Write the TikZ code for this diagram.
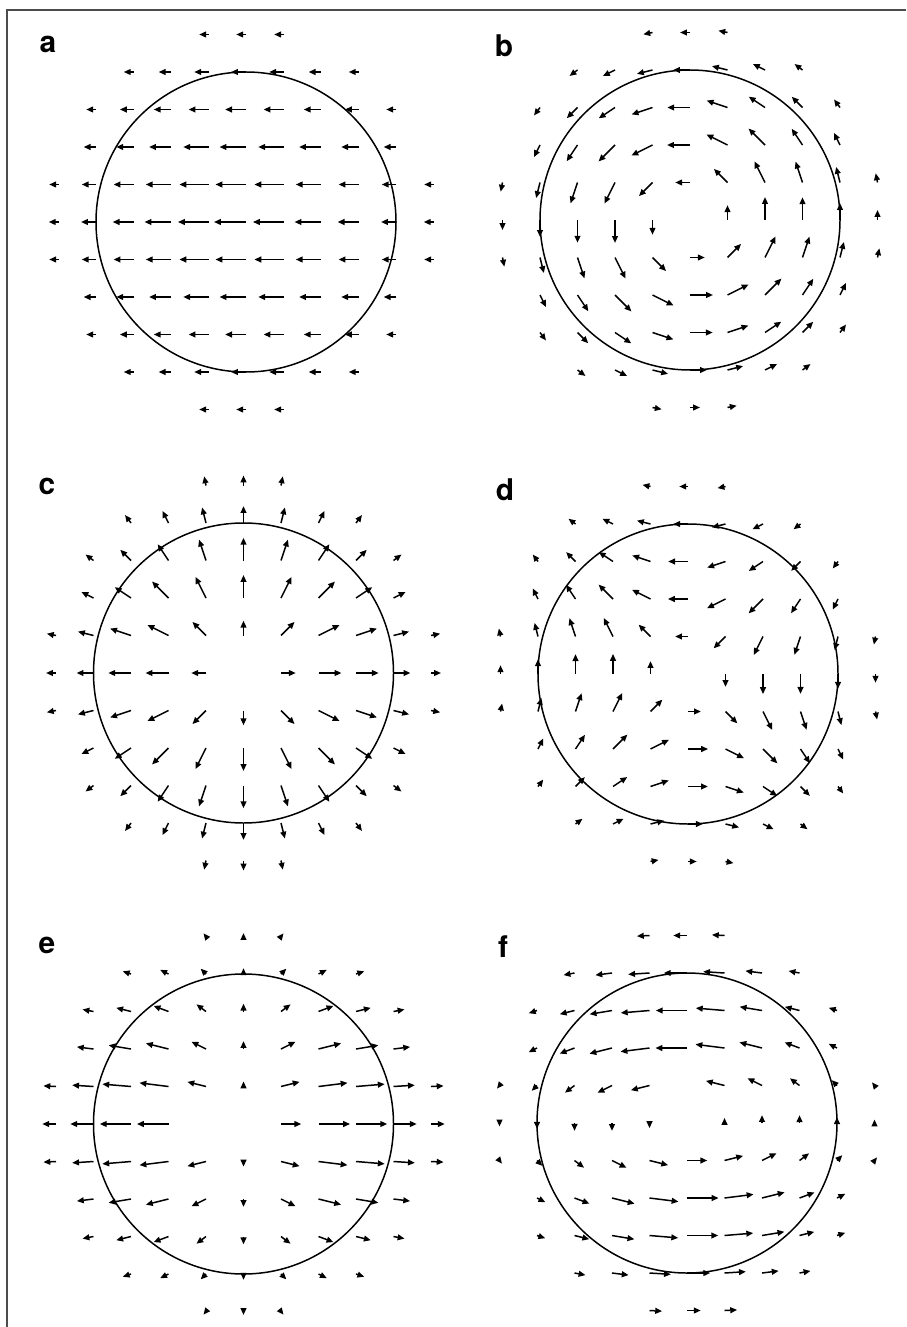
\documentclass[tikz,border=0pt]{standalone}
\usepackage{fontspec}
\setsansfont{TeX Gyre Heros}
\usetikzlibrary{arrows.meta}

\begin{document}
\begin{tikzpicture}[x=0.02cm, y=0.02cm,
    vec/.style={line width=0.85pt, -{Triangle[length=3.9pt,width=3.3pt]}},
    rim/.style={line width=0.85pt},
    panel/.style={font=\sffamily\bfseries\fontsize{17}{17}\selectfont, inner sep=0pt}]

\useasboundingbox (0,0) rectangle (906,-1327);

% Frame, top and left edges only
\draw[line width=1.1pt, black!70] (7,-1327) -- (7,-10) -- (906,-10);

% Grid step (px)
\def\gridsp{37.5}

% One panel: circle of radius 4 steps, arrows with tails on grid points i^2+j^2<=26
% #1 centre, #2 and #3 arrow components (px), #4 grid point left out
\def\vfield#1#2#3#4{
  \begin{scope}[shift={(#1)}]
    \draw[rim] (0,0) circle (150);
    \def\holept{#4}
    \foreach \i in {-5,...,5} {
      \foreach \j in {-5,...,5} {
        \pgfmathtruncatemacro\rr{\i*\i+\j*\j}
        \pgfmathsetmacro\g{exp(-\rr/12)}
        \pgfmathsetmacro\vx{#2}
        \pgfmathsetmacro\vy{#3}
        \pgfmathsetmacro\len{veclen(\vx,\vy)}
        \edef\herept{\i/\j}
        \ifnum\rr<27 \ifdim\len pt>0.5pt \ifx\herept\holept\else
          \draw[vec] (\gridsp*\i,\gridsp*\j) -- ++(\vx,\vy);
        \fi\fi\fi
      }
    }
  \end{scope}
}

% a: uniform field
\vfield{246,-222}{-32*exp(-\rr/21)}{0}{9/9}
% b: rotation
\vfield{690,-220}{-16*\g*(\j)}{16*\g*(\i)}{9/9}
% c: source
\vfield{243.5,-673}{16*\g*(\i)}{16*\g*(\j)}{9/9}
% d: saddle
\vfield{688,-674}{-14*\g*(\j)}{-14*\g*(\i)}{9/9}
% e: stretched source
\vfield{243.5,-1124}{22*\g*(\i)}{5.5*\g*(\j)}{-1/0}
% f: stretched rotation
\vfield{687,-1123}{-22*\g*(\j)}{5.5*\g*(\i)}{0/1}

% Panel letters
\node[panel] (la) at (48,-44) {a};
\node[panel] (lb) at (504,-46) {b};
\node[panel] (lc) at (47,-486) {c};
\node[panel] (ld) at (505,-490) {d};
\node[panel] (le) at (47,-945) {e};
\node[panel] (lf) at (503,-947) {f};

\end{tikzpicture}
\end{document}
